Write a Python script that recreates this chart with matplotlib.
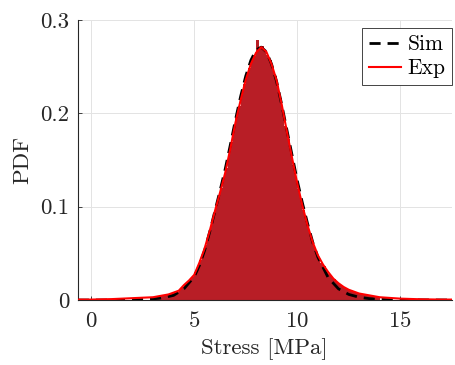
import numpy as np
import matplotlib
matplotlib.use("Agg")
import matplotlib.pyplot as plt


# histogram of the measured stresses (bin width 0.125 MPa, from 3 MPa)
hist_edges_start = 3.0
hist_bin_width = 0.125
hist_heights = [
    0.003, 0.004, 0.004, 0.005, 0.005, 0.006, 0.006, 0.007,
    0.008, 0.009, 0.011, 0.014, 0.017, 0.019, 0.022, 0.025,
    0.030, 0.036, 0.043, 0.051, 0.059, 0.069, 0.079, 0.089,
    0.100, 0.110, 0.120, 0.131, 0.142, 0.155, 0.169, 0.183,
    0.196, 0.208, 0.220, 0.231, 0.240, 0.249, 0.256, 0.262,
    0.279, 0.270, 0.272, 0.268, 0.263, 0.257, 0.249, 0.240,
    0.229, 0.216, 0.202, 0.187, 0.173, 0.159, 0.145, 0.132,
    0.119, 0.107, 0.096, 0.085, 0.075, 0.066, 0.058, 0.051,
    0.046, 0.040, 0.036, 0.032, 0.028, 0.025, 0.022, 0.019,
    0.017, 0.015, 0.013, 0.012, 0.011, 0.010, 0.009, 0.008,
    0.007, 0.006, 0.006, 0.005, 0.005, 0.004, 0.004, 0.003,
]

# simulated PDF
sim_x = [-0.65, 1.0, 2.0, 2.5, 3.0, 3.5, 4.0, 4.5, 5.0, 5.25, 5.5, 5.75,
         6.0, 6.25, 6.5, 6.75, 7.0, 7.25, 7.5, 7.75, 8.0, 8.25, 8.5,
         8.75, 9.0, 9.25, 9.5, 9.75, 10.0, 10.25, 10.5, 10.75, 11.0,
         11.5, 12.0, 12.5, 13.0, 13.5, 14.0, 15.0, 17.5]
sim_pdf = [0.0, 0.0, 0.0003, 0.0006, 0.0012, 0.0025, 0.005, 0.012, 0.025,
           0.037, 0.053, 0.073, 0.095, 0.117, 0.140, 0.166, 0.193, 0.218,
           0.240, 0.257, 0.268, 0.271, 0.266, 0.253, 0.234, 0.209, 0.182,
           0.155, 0.128, 0.104, 0.082, 0.062, 0.046, 0.024, 0.012, 0.006,
           0.003, 0.0015, 0.0007, 0.0002, 0.0]

# experimental PDF
exp_x = [-0.65, 0.0, 1.0, 2.0, 3.0, 3.25, 3.5, 3.75, 4.0, 4.25, 4.5, 4.75,
         5.0, 5.25, 5.5, 5.75, 6.0, 6.25, 6.5, 6.75, 7.0, 7.25, 7.5,
         7.75, 8.0, 8.25, 8.5, 8.75, 9.0, 9.25, 9.5, 9.75, 10.0, 10.25,
         10.5, 10.75, 11.0, 11.25, 11.5, 11.75, 12.0, 12.25, 12.5, 12.75,
         13.0, 13.5, 14.0, 15.0, 16.0, 17.0, 17.5]
exp_pdf = [0.0005, 0.0005, 0.001, 0.002, 0.003, 0.004, 0.005, 0.006, 0.008,
           0.010, 0.016, 0.021, 0.027, 0.040, 0.055, 0.074, 0.095, 0.115,
           0.136, 0.162, 0.190, 0.214, 0.236, 0.253, 0.265, 0.271, 0.266,
           0.253, 0.235, 0.209, 0.180, 0.152, 0.125, 0.101, 0.080, 0.062,
           0.048, 0.038, 0.030, 0.023, 0.018, 0.014, 0.011, 0.009, 0.007,
           0.005, 0.003, 0.0015, 0.0008, 0.0005, 0.0005]

x_ticks = [0, 5, 10, 15]
y_ticks = [0, 0.1, 0.2, 0.3]
y_tick_labels = ["0", "0.1", "0.2", "0.3"]


plt.rcParams["font.family"] = ["cmr10", "DejaVu Serif"]
plt.rcParams["mathtext.fontset"] = "cm"
plt.rcParams["axes.formatter.use_mathtext"] = True
plt.rcParams["font.size"] = 16.5

axis_color = "#262626"

fig = plt.figure(figsize=(4.55, 3.65), dpi=100)
ax = fig.add_axes([0.171, 0.178, 0.822, 0.767])

edges = hist_edges_start + hist_bin_width * np.arange(len(hist_heights) + 1)
centers = (edges[:-1] + edges[1:]) / 2
ax.hist(centers, bins=edges, weights=hist_heights,
        color="#b81e26", edgecolor="none", zorder=2)

ax.plot(sim_x, sim_pdf, color="black", linestyle=(0, (4, 2.5)),
        linewidth=2.0, label="Sim", zorder=3)
ax.plot(exp_x, exp_pdf, color="#ff0000", linewidth=1.5,
        label="Exp", zorder=4)

ax.set_xlim(-0.65, 17.5)
ax.set_ylim(0, 0.3)
ax.set_xticks(x_ticks)
ax.set_yticks(y_ticks)
ax.set_yticklabels(y_tick_labels)

ax.set_xlabel("Stress [MPa]", color=axis_color, labelpad=5)
ax.set_ylabel("PDF", color=axis_color, labelpad=6)

ax.grid(True, color="#e3e3e3", linewidth=0.7, zorder=0)
ax.set_axisbelow(True)

for side in ["top", "right"]:
    ax.spines[side].set_visible(False)
for side in ["left", "bottom"]:
    ax.spines[side].set_color(axis_color)
    ax.spines[side].set_linewidth(0.8)

ax.tick_params(direction="in", length=3, width=0.6, colors=axis_color)
ax.tick_params(axis="x", pad=8)
ax.tick_params(axis="y", pad=6)

leg = ax.legend(loc="upper right", bbox_to_anchor=(1.0, 0.97),
                fancybox=False, framealpha=1, edgecolor="#262626",
                handlelength=1.5, handletextpad=0.3, borderpad=0.3,
                labelspacing=0.2, borderaxespad=0.0, fontsize=15.5)
leg.get_frame().set_linewidth(0.6)

fig.savefig("out.png", dpi=100)
